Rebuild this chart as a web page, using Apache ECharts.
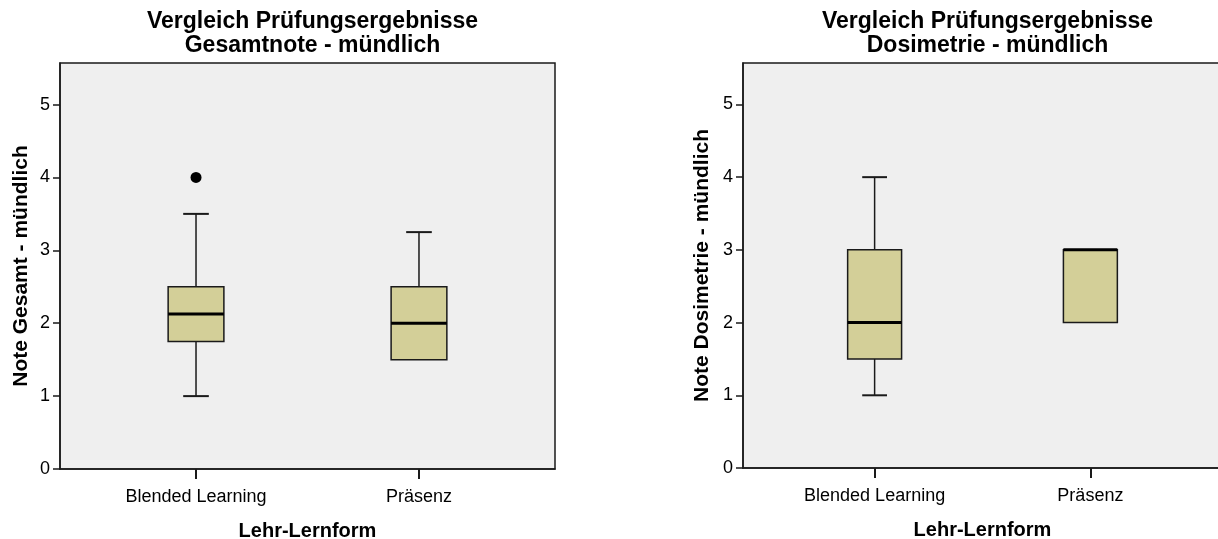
<!DOCTYPE html>
<html>
<head>
<meta charset="utf-8">
<script src="https://cdn.jsdelivr.net/npm/echarts@6/dist/echarts.min.js"></script>
<style>
html,body{margin:0;padding:0;background:#fff;}
#c{width:1218px;height:539px;}
</style>
</head>
<body>
<div id="c"></div>
<script>
// ---- data ----
const categories = ['Blended Learning', 'Präsenz'];
const yTicks = [0, 1, 2, 3, 4, 5];
// [min, Q1, median, Q3, max]
const gesamtBoxes = [
  [1, 1.75, 2.125, 2.5, 3.5],
  [1.5, 1.5, 2, 2.5, 3.25]
];
const gesamtOutliers = [[0, 4]];
const dosiBoxes = [
  [1, 1.5, 2, 3, 4],
  [2, 2, 3, 3, 3]
];
const dosiOutliers = [];
const titles = ['Vergleich Prüfungsergebnisse\nGesamtnote - mündlich', 'Vergleich Prüfungsergebnisse\nDosimetrie - mündlich'];
const yNames = ['Note Gesamt - mündlich', 'Note Dosimetrie - mündlich'];
const xName = 'Lehr-Lernform';

const FONT = '"Liberation Sans", Arial, Helvetica, sans-serif';
const BOX_FILL = '#d3cf98';
const LINE = '#1a1a1a';

function boxRender(params, api) {
  const x = api.value(0);
  const vmin = api.value(1), q1 = api.value(2), med = api.value(3), q3 = api.value(4), vmax = api.value(5);
  const half = api.size([0.25, 0])[0] / 2;
  const capHalf = api.size([0.115, 0])[0] / 2;
  const pMin = api.coord([x, vmin]);
  const pQ1 = api.coord([x, q1]);
  const pMed = api.coord([x, med]);
  const pQ3 = api.coord([x, q3]);
  const pMax = api.coord([x, vmax]);
  const cx = pMed[0];
  const children = [];
  const lineStyle = {stroke: LINE, lineWidth: 1.5};
  if (vmax > q3) {
    children.push({type: 'line', shape: {x1: cx, y1: pQ3[1], x2: cx, y2: pMax[1]}, style: lineStyle});
    children.push({type: 'line', shape: {x1: cx - capHalf, y1: pMax[1], x2: cx + capHalf, y2: pMax[1]}, style: {stroke: LINE, lineWidth: 2}});
  }
  if (vmin < q1) {
    children.push({type: 'line', shape: {x1: cx, y1: pQ1[1], x2: cx, y2: pMin[1]}, style: lineStyle});
    children.push({type: 'line', shape: {x1: cx - capHalf, y1: pMin[1], x2: cx + capHalf, y2: pMin[1]}, style: {stroke: LINE, lineWidth: 2}});
  }
  children.push({type: 'rect', shape: {x: cx - half, y: pQ3[1], width: half * 2, height: pQ1[1] - pQ3[1]},
    style: {fill: BOX_FILL, stroke: LINE, lineWidth: 1.5}});
  children.push({type: 'line', shape: {x1: cx - half, y1: pMed[1], x2: cx + half, y2: pMed[1]}, style: {stroke: '#000', lineWidth: 3}});
  return {type: 'group', children: children};
}

function toRows(boxes) {
  return boxes.map((b, i) => [i].concat(b));
}

const grids = [
  {left: 60, top: 63, width: 495, height: 406},
  {left: 743, top: 63, width: 479, height: 405}
];

const option = {
  backgroundColor: '#ffffff',
  animation: false,
  title: titles.map((t, i) => ({
    text: t,
    left: grids[i].left + grids[i].width / 2,
    top: 5,
    textAlign: 'center',
    textStyle: {fontFamily: FONT, fontSize: 23, fontWeight: 'bold', color: '#000', lineHeight: 24}
  })),
  grid: grids.map(g => Object.assign({
    show: true, backgroundColor: '#efefef', borderColor: LINE, borderWidth: 1.5,
    containLabel: false, outerBoundsMode: 'none'
  }, g)),
  xAxis: [0, 1].map(i => ({
    type: 'value', gridIndex: i, min: -0.61, max: 1.61,
    name: xName, nameLocation: 'middle', nameGap: 52,
    nameTextStyle: {fontFamily: FONT, fontSize: 20, fontWeight: 'bold', color: '#000'},
    axisLine: {show: true, onZero: false, lineStyle: {color: LINE, width: 1.5}},
    axisTick: {show: true, length: 10, lineStyle: {color: LINE, width: 2}, customValues: [0, 1]},
    axisLabel: {show: true, customValues: [0, 1], margin: 19, fontFamily: FONT, fontSize: 18, color: '#000',
      formatter: v => categories[Math.round(v)]},
    splitLine: {show: false}
  })),
  yAxis: [0, 1].map(i => ({
    type: 'value', gridIndex: i, min: 0, max: 5.57,
    name: yNames[i], nameLocation: 'middle', nameGap: i === 0 ? 28 : 30,
    nameTextStyle: {fontFamily: FONT, fontSize: 21, fontWeight: 'bold', color: '#000'},
    axisLine: {show: true, onZero: false, lineStyle: {color: LINE, width: 1.5}},
    axisTick: {show: true, length: 7, lineStyle: {color: LINE, width: 1.5}, customValues: yTicks},
    axisLabel: {show: true, customValues: yTicks, margin: 10, fontFamily: FONT, fontSize: 18, color: '#000'},
    splitLine: {show: false}
  })),
  series: [
    {type: 'custom', xAxisIndex: 0, yAxisIndex: 0, renderItem: boxRender, data: toRows(gesamtBoxes),
      encode: {x: 0, y: [1, 2, 3, 4, 5]}, clip: false},
    {type: 'scatter', xAxisIndex: 0, yAxisIndex: 0, data: gesamtOutliers, symbol: 'circle', symbolSize: 11,
      itemStyle: {color: '#000', opacity: 1}},
    {type: 'custom', xAxisIndex: 1, yAxisIndex: 1, renderItem: boxRender, data: toRows(dosiBoxes),
      encode: {x: 0, y: [1, 2, 3, 4, 5]}, clip: false},
    {type: 'scatter', xAxisIndex: 1, yAxisIndex: 1, data: dosiOutliers, symbol: 'circle', symbolSize: 11,
      itemStyle: {color: '#000', opacity: 1}}
  ]
};

const chart = echarts.init(document.getElementById('c'), null, {renderer: 'canvas'});
chart.setOption(option);
</script>
</body>
</html>
